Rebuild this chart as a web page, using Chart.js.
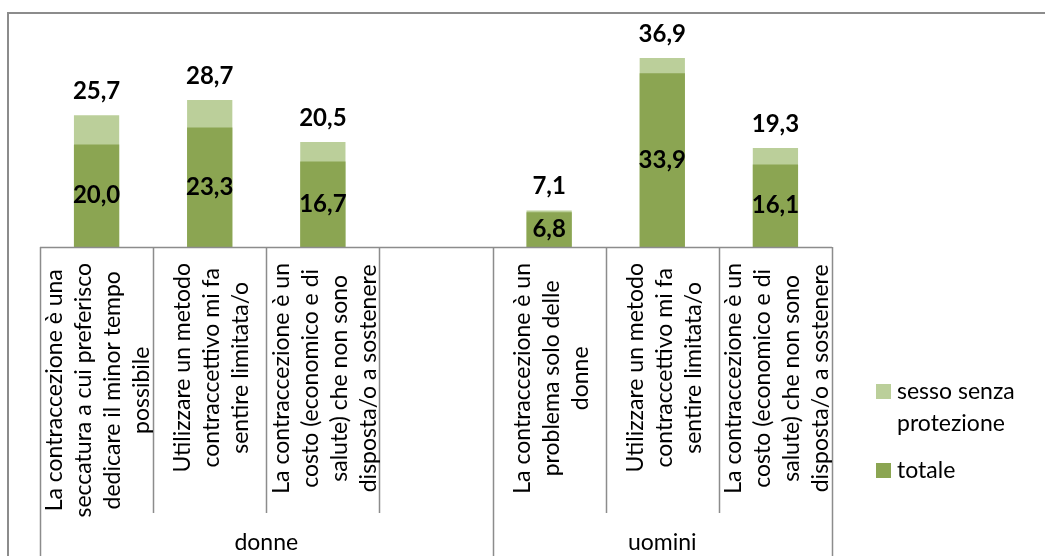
<!DOCTYPE html>
<html>
<head>
<meta charset="utf-8">
<script src="https://cdn.jsdelivr.net/npm/chart.js@4/dist/chart.umd.min.js"></script>
<style>
  html, body { margin: 0; padding: 0; background: #fff; }
  canvas { display: block; }
</style>
</head>
<body>
<canvas id="myChart" width="1045" height="556"></canvas>
<script>
// categories, one array of text lines each (empty slot between the groups)
const categories = [
  ['La contraccezione è una', 'seccatura a cui preferisco', 'dedicare il minor tempo', 'possibile'],
  ['Utilizzare un metodo', 'contraccettivo mi fa', 'sentire limitata/o'],
  ['La contraccezione è un', 'costo (economico e di', 'salute) che non sono', 'disposta/o a sostenere'],
  [],
  ['La contraccezione è un', 'problema solo delle', 'donne'],
  ['Utilizzare un metodo', 'contraccettivo mi fa', 'sentire limitata/o'],
  ['La contraccezione è un', 'costo (economico e di', 'salute) che non sono', 'disposta/o a sostenere']
];
const groupLabels = ['donne', 'uomini'];
const groupSizes = [4, 3];

const totale = [20.0, 23.3, 16.7, null, 6.8, 33.9, 16.1];
const sessoSenzaProtezione = [25.7, 28.7, 20.5, null, 7.1, 36.9, 19.3];

const seriesNames = ['sesso senza protezione', 'totale'];

const DARK = '#8ba552';
const LIGHT = '#bbcf9a';
const LINE = '#8c8c8c';
const FONT = 'Lato, "Open Sans", sans-serif';

function fmt(v) {
  return v.toFixed(1).replace('.', ',');
}

const drawExtras = {
  id: 'drawExtras',
  afterDatasetsDraw(chart) {
    const ctx = chart.ctx;
    const x = chart.scales.x;
    const area = chart.chartArea;
    const axisY = area.bottom;
    const half = (x.getPixelForValue(1) - x.getPixelForValue(0)) / 2;

    ctx.save();

    // outer frame
    ctx.strokeStyle = LINE;
    ctx.lineWidth = 2;
    ctx.beginPath();
    ctx.moveTo(8, 556);
    ctx.lineTo(8, 13);
    ctx.lineTo(1045, 13);
    ctx.stroke();

    // axis line and category separators
    ctx.lineWidth = 1.5;
    ctx.beginPath();
    ctx.moveTo(x.getPixelForValue(0) - half, axisY + 0.5);
    ctx.lineTo(x.getPixelForValue(categories.length - 1) + half, axisY + 0.5);
    const groupEdges = [0];
    groupSizes.forEach(s => groupEdges.push(groupEdges[groupEdges.length - 1] + s));
    for (let i = 0; i <= categories.length; i++) {
      const px = Math.round(x.getPixelForValue(i) - half) + 0.5;
      const long = groupEdges.includes(i);
      ctx.moveTo(px, axisY);
      ctx.lineTo(px, long ? 556 : 513);
    }
    ctx.stroke();

    // category labels, rotated
    ctx.fillStyle = '#000';
    ctx.font = '23px ' + FONT;
    ctx.textAlign = 'center';
    ctx.textBaseline = 'middle';
    const lh = 29;
    categories.forEach((lines, i) => {
      if (!lines.length) return;
      const cx = x.getPixelForValue(i) + 2;
      const maxW = Math.max(...lines.map(l => ctx.measureText(l).width));
      const yc = axisY + 16 + maxW / 2;
      lines.forEach((line, j) => {
        ctx.save();
        ctx.translate(cx + (j - (lines.length - 1) / 2) * lh, yc);
        ctx.rotate(-Math.PI / 2);
        ctx.fillText(line, 0, 0);
        ctx.restore();
      });
    });

    // group labels
    groupLabels.forEach((g, k) => {
      const a = x.getPixelForValue(groupEdges[k]) - half;
      const b = x.getPixelForValue(groupEdges[k + 1] - 1) + half;
      ctx.fillText(g, (a + b) / 2, 543);
    });

    // data labels
    ctx.font = 'bold 24px ' + FONT;
    const metaTot = chart.getDatasetMeta(0);
    const metaSes = chart.getDatasetMeta(1);
    totale.forEach((v, i) => {
      if (v == null) return;
      const bar = metaTot.data[i];
      ctx.fillText(fmt(v), bar.x, (bar.y + bar.base) / 2);
    });
    sessoSenzaProtezione.forEach((v, i) => {
      if (v == null) return;
      const bar = metaSes.data[i];
      ctx.fillText(fmt(v), bar.x, bar.y - 24);
    });

    // legend
    ctx.font = '23px ' + FONT;
    ctx.textAlign = 'left';
    ctx.fillStyle = LIGHT;
    ctx.fillRect(876, 384, 15, 15);
    ctx.fillStyle = DARK;
    ctx.fillRect(876, 463, 15, 15);
    ctx.fillStyle = '#000';
    ctx.fillText('sesso senza', 897, 392);
    ctx.fillText('protezione', 897, 424);
    ctx.fillText(seriesNames[1], 897, 471);

    ctx.restore();
  }
};

new Chart(document.getElementById('myChart'), {
  type: 'bar',
  data: {
    labels: categories.map(c => c.join(' ')),
    datasets: [
      {
        label: seriesNames[1],
        data: totale,
        backgroundColor: DARK,
        grouped: false,
        categoryPercentage: 1,
        barPercentage: 0.4
      },
      {
        label: seriesNames[0],
        data: sessoSenzaProtezione,
        backgroundColor: LIGHT,
        grouped: false,
        categoryPercentage: 1,
        barPercentage: 0.4
      }
    ]
  },
  options: {
    responsive: false,
    animation: false,
    devicePixelRatio: 1,
    layout: { padding: { left: 40, right: 213, top: 42, bottom: 309 } },
    plugins: {
      legend: { display: false },
      tooltip: { enabled: false }
    },
    scales: {
      x: { display: false },
      y: { display: false, min: 0, max: 40 }
    }
  },
  plugins: [drawExtras]
});
</script>
</body>
</html>
